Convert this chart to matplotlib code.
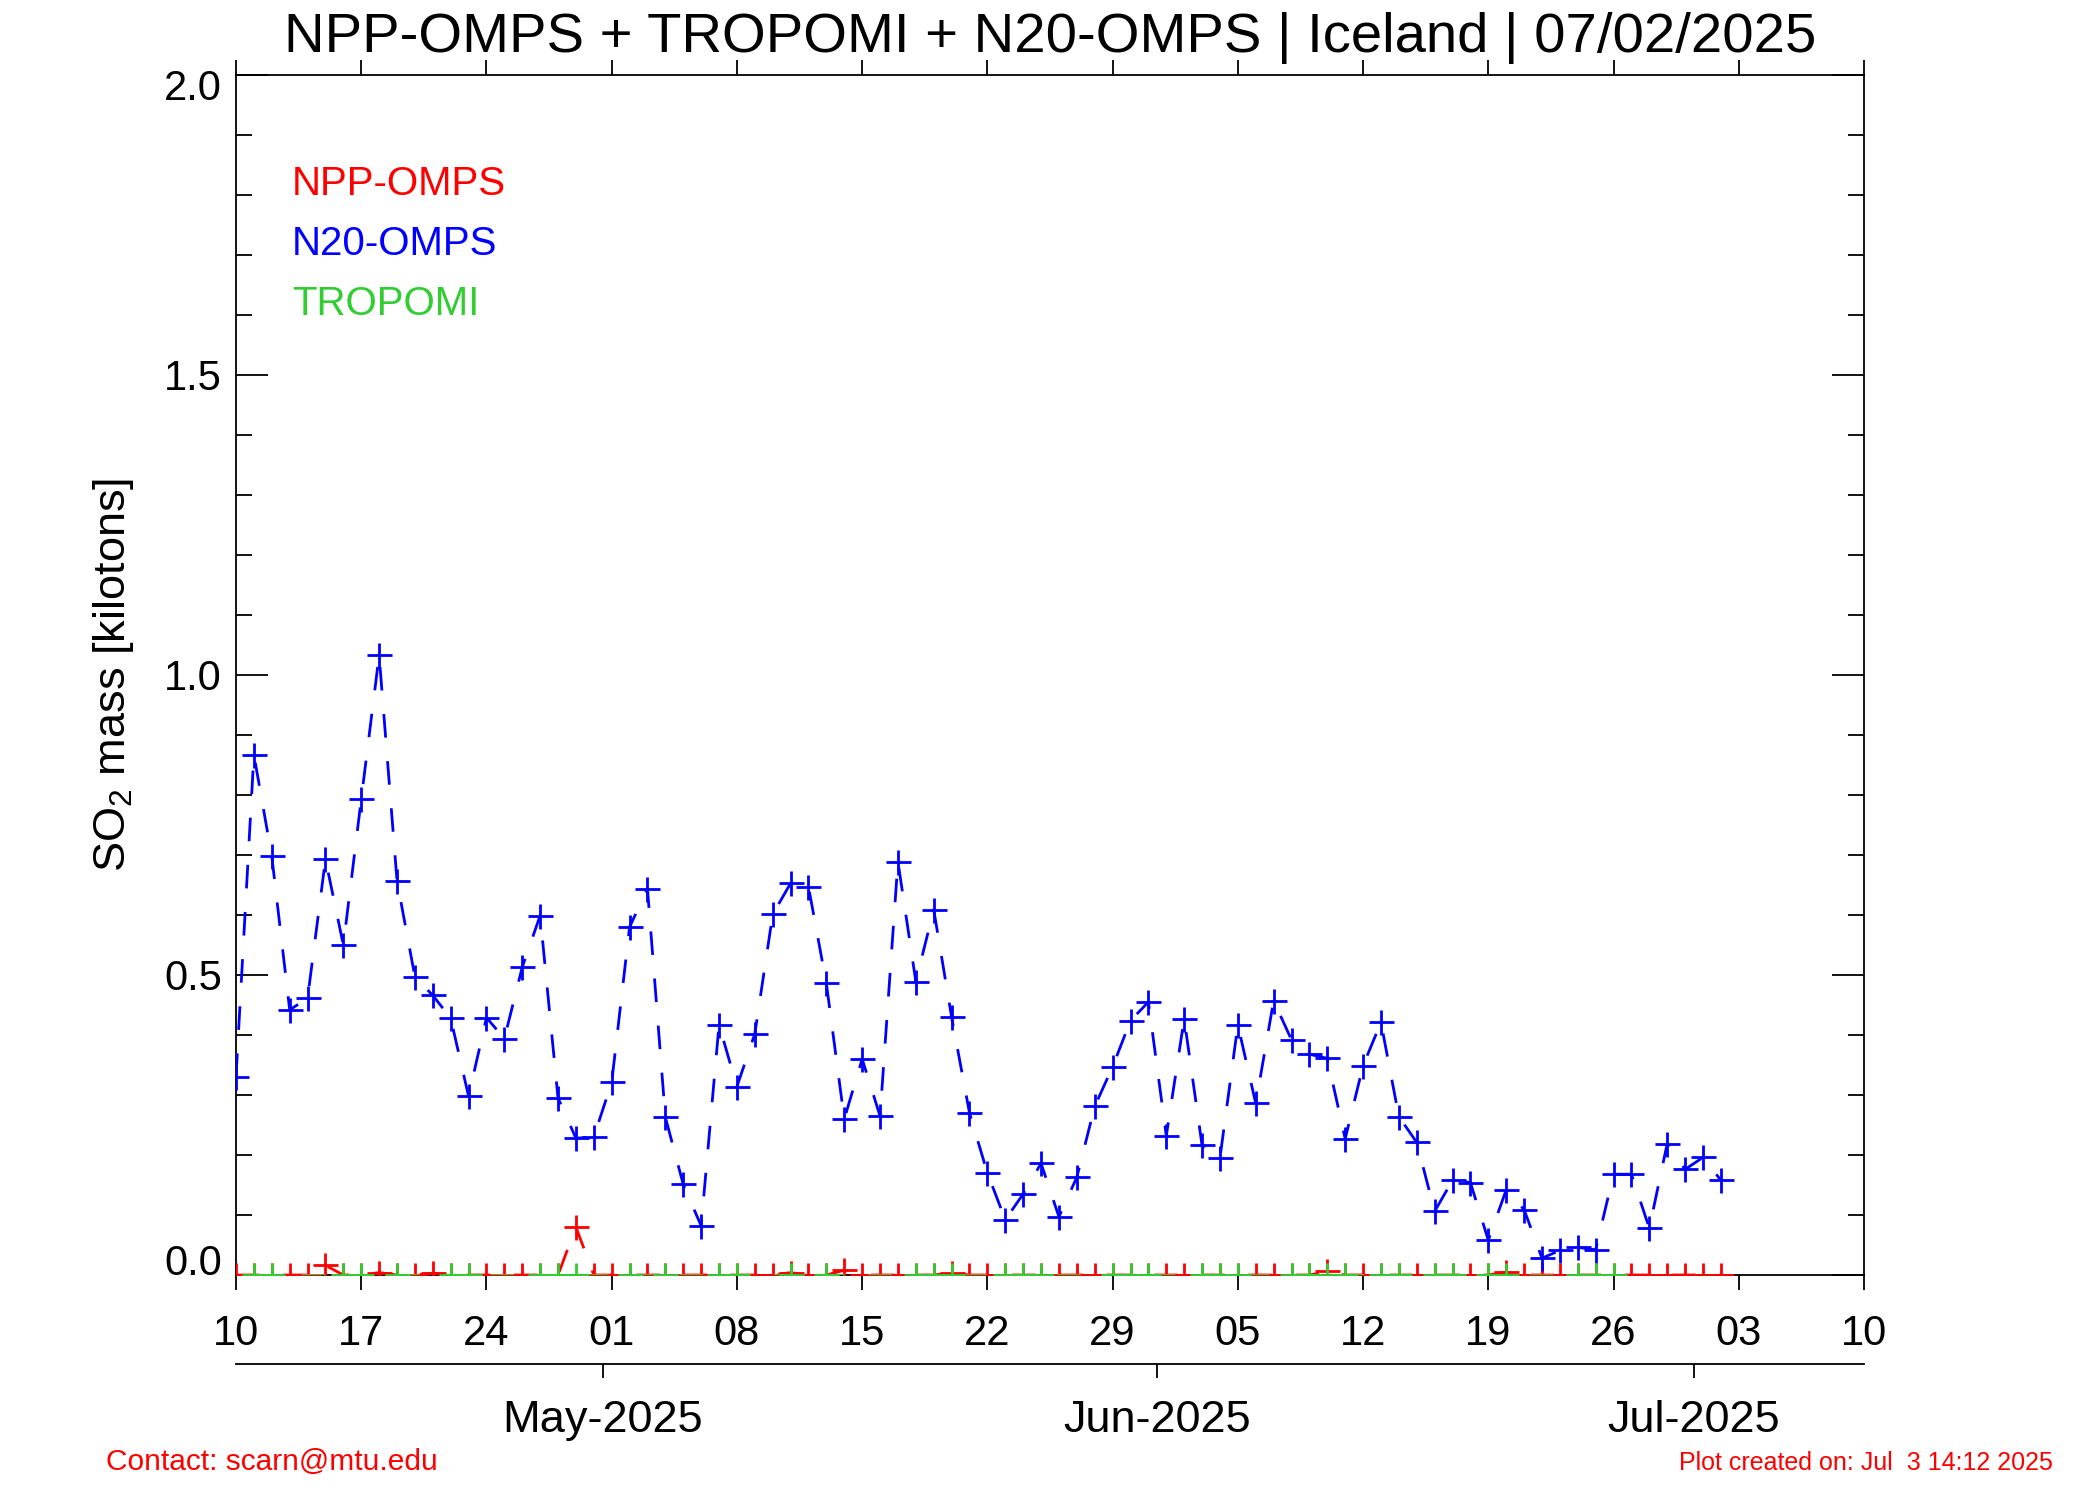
import pandas as pd
import matplotlib
matplotlib.use("Agg")
import matplotlib.pyplot as plt
import matplotlib.dates as mdates
from matplotlib.ticker import MultipleLocator
from matplotlib.transforms import ScaledTranslation

plt.rcParams['font.family'] = ['Liberation Sans', 'DejaVu Sans']
plt.rcParams['mathtext.default'] = 'regular'
plt.rcParams['lines.scale_dashes'] = False

# daily values, first day = 10 Apr 2025
start = "2025-04-10"

n20_omps = [0.330, 0.867, 0.698, 0.442, 0.461, 0.693, 0.550,
            0.793, 1.033, 0.657, 0.497, 0.466, 0.428, 0.298,
            0.429, 0.394, 0.513, 0.599, 0.295, 0.228, 0.230,
            0.321, 0.580, 0.644, 0.263, 0.151, 0.082, 0.417,
            0.314, 0.402, 0.601, 0.653, 0.647, 0.486, 0.260,
            0.360, 0.265, 0.689, 0.489, 0.609, 0.430, 0.270,
            0.170, 0.092, 0.135, 0.186, 0.097, 0.163, 0.281,
            0.347, 0.424, 0.455, 0.232, 0.427, 0.216, 0.195,
            0.417, 0.286, 0.457, 0.392, 0.368, 0.361, 0.227,
            0.349, 0.421, 0.264, 0.221, 0.106, 0.158, 0.154,
            0.058, 0.142, 0.109, 0.028, 0.041, 0.046, 0.042,
            0.168, 0.168, 0.078, 0.219, 0.176, 0.196, 0.158]

npp_omps = [0, 0, 0, 0, 0, 0.016, 0,
            0, 0.004, 0, 0, 0.003, 0, 0,
            0, 0, 0, 0, 0, 0.080, 0,
            0, 0, 0, 0, 0, 0, 0,
            0, 0, 0, 0.004, 0, 0, 0.008,
            0, 0, 0, 0, 0, 0.004, 0,
            0, 0, 0, 0, 0, 0, 0,
            0, 0, 0, 0, 0, 0, 0,
            0, 0, 0, 0, 0, 0.006, 0,
            0, 0, 0, 0, 0, 0, 0,
            0, 0.005, 0, 0, 0, 0, 0,
            0, 0, 0, 0, 0, 0, 0]

tropomi_dates = ["2025-04-11", "2025-04-12", "2025-04-16", "2025-04-17", "2025-04-19",
                 "2025-04-22", "2025-04-23", "2025-04-27", "2025-04-28", "2025-04-29",
                 "2025-05-02", "2025-05-04", "2025-05-07", "2025-05-08", "2025-05-11",
                 "2025-05-13", "2025-05-18", "2025-05-19", "2025-05-20", "2025-05-23",
                 "2025-05-24", "2025-05-25", "2025-05-29", "2025-05-30", "2025-05-31",
                 "2025-06-03", "2025-06-04", "2025-06-05", "2025-06-08", "2025-06-09",
                 "2025-06-10", "2025-06-11", "2025-06-13", "2025-06-14", "2025-06-16",
                 "2025-06-17", "2025-06-19", "2025-06-20", "2025-06-24", "2025-06-25",
                 "2025-06-26"]
tropomi = [0, 0, 0, 0, 0, 0, 0, 0, 0, 0,
           0, 0, 0, 0, 0, 0, 0, 0, 0, 0,
           0, 0, 0, 0, 0, 0, 0, 0, 0, 0,
           0, 0, 0, 0, 0, 0, 0, 0, 0, 0,
           0]

week_ticks = pd.date_range("2025-04-10", "2025-07-10", freq="7D")
month_ticks = pd.to_datetime(["2025-05-01", "2025-06-01", "2025-07-01"]) - pd.Timedelta(hours=12)
month_labels = ["May-2025", "Jun-2025", "Jul-2025"]

days = pd.date_range(start, periods=len(n20_omps), freq="D")
trop_days = pd.to_datetime(tropomi_dates)

RED = "#ff0000"
BLUE = "#0000ff"
GREEN = "#32cd32"

fig = plt.figure(figsize=(21, 15), dpi=100)
ax = fig.add_axes([236 / 2100, 0.15, 1628 / 2100, 0.8])

style = dict(ls=(0, (17, 17)), lw=2, marker="+", ms=18, mew=2, zorder=3)
ax.plot(days, npp_omps, color=RED, **style)
ax.plot(days, n20_omps, color=BLUE, **style)
ax.plot(trop_days, tropomi, color=GREEN, **style)

ax.set_xlim(pd.Timestamp("2025-04-10"), pd.Timestamp("2025-07-10"))
ax.set_ylim(0, 2.0)

for s in ax.spines.values():
    s.set_linewidth(1.3)

ax.set_xticks(week_ticks)
ax.xaxis.set_major_formatter(mdates.DateFormatter("%d"))
ax.tick_params(axis="x", which="major", direction="out", top=True, bottom=True,
               length=11, width=1.3, labelsize=30, pad=17)

ax.set_yticks([0.0, 0.5, 1.0, 1.5, 2.0])
ax.set_yticklabels(["0.0", "0.5", "1.0", "1.5", "2.0"])
ax.yaxis.set_minor_locator(MultipleLocator(0.1))
ax.tick_params(axis="y", which="both", direction="in", left=True, right=True, width=1.3)
ax.tick_params(axis="y", which="major", length=23, labelsize=30, pad=10)
ax.tick_params(axis="y", which="minor", length=11.5)

# end labels are pulled inside the axis range
ylabs = ax.get_yticklabels()
ylabs[0].set_transform(ylabs[0].get_transform() + ScaledTranslation(0, 11 / 72, fig.dpi_scale_trans))
ylabs[-1].set_transform(ylabs[-1].get_transform() + ScaledTranslation(0, -7 / 72, fig.dpi_scale_trans))

ax.set_ylabel("SO$_2$ mass [kilotons]", fontsize=32.5, va="center")
ax.yaxis.set_label_coords(-0.075, 0.5)

sec = ax.secondary_xaxis(-0.0742)
sec.set_xticks(month_ticks, labels=month_labels)
sec.spines["bottom"].set_linewidth(1.3)
sec.tick_params(axis="x", direction="out", length=10, width=1.3, labelsize=32.5, pad=16)

ax.text(0.0344, 0.90, "NPP-OMPS", color=RED, fontsize=29, transform=ax.transAxes)
ax.text(0.0344, 0.85, "N20-OMPS", color=BLUE, fontsize=29, transform=ax.transAxes)
ax.text(0.0344, 0.80, "TROPOMI", color=GREEN, fontsize=29, transform=ax.transAxes)

fig.text(0.5, 1 - 52 / 1500, "NPP-OMPS + TROPOMI + N20-OMPS | Iceland | 07/02/2025",
         ha="center", va="baseline", fontsize=40.5)
fig.text(106 / 2100, 1 - 1470 / 1500, "Contact: scarn@mtu.edu", color=RED,
         fontsize=21.5, va="baseline")
fig.text(2053 / 2100, 1 - 1470 / 1500, "Plot created on: Jul  3 14:12 2025", color=RED,
         fontsize=18, va="baseline", ha="right")

fig.savefig("out.png", dpi=100)
